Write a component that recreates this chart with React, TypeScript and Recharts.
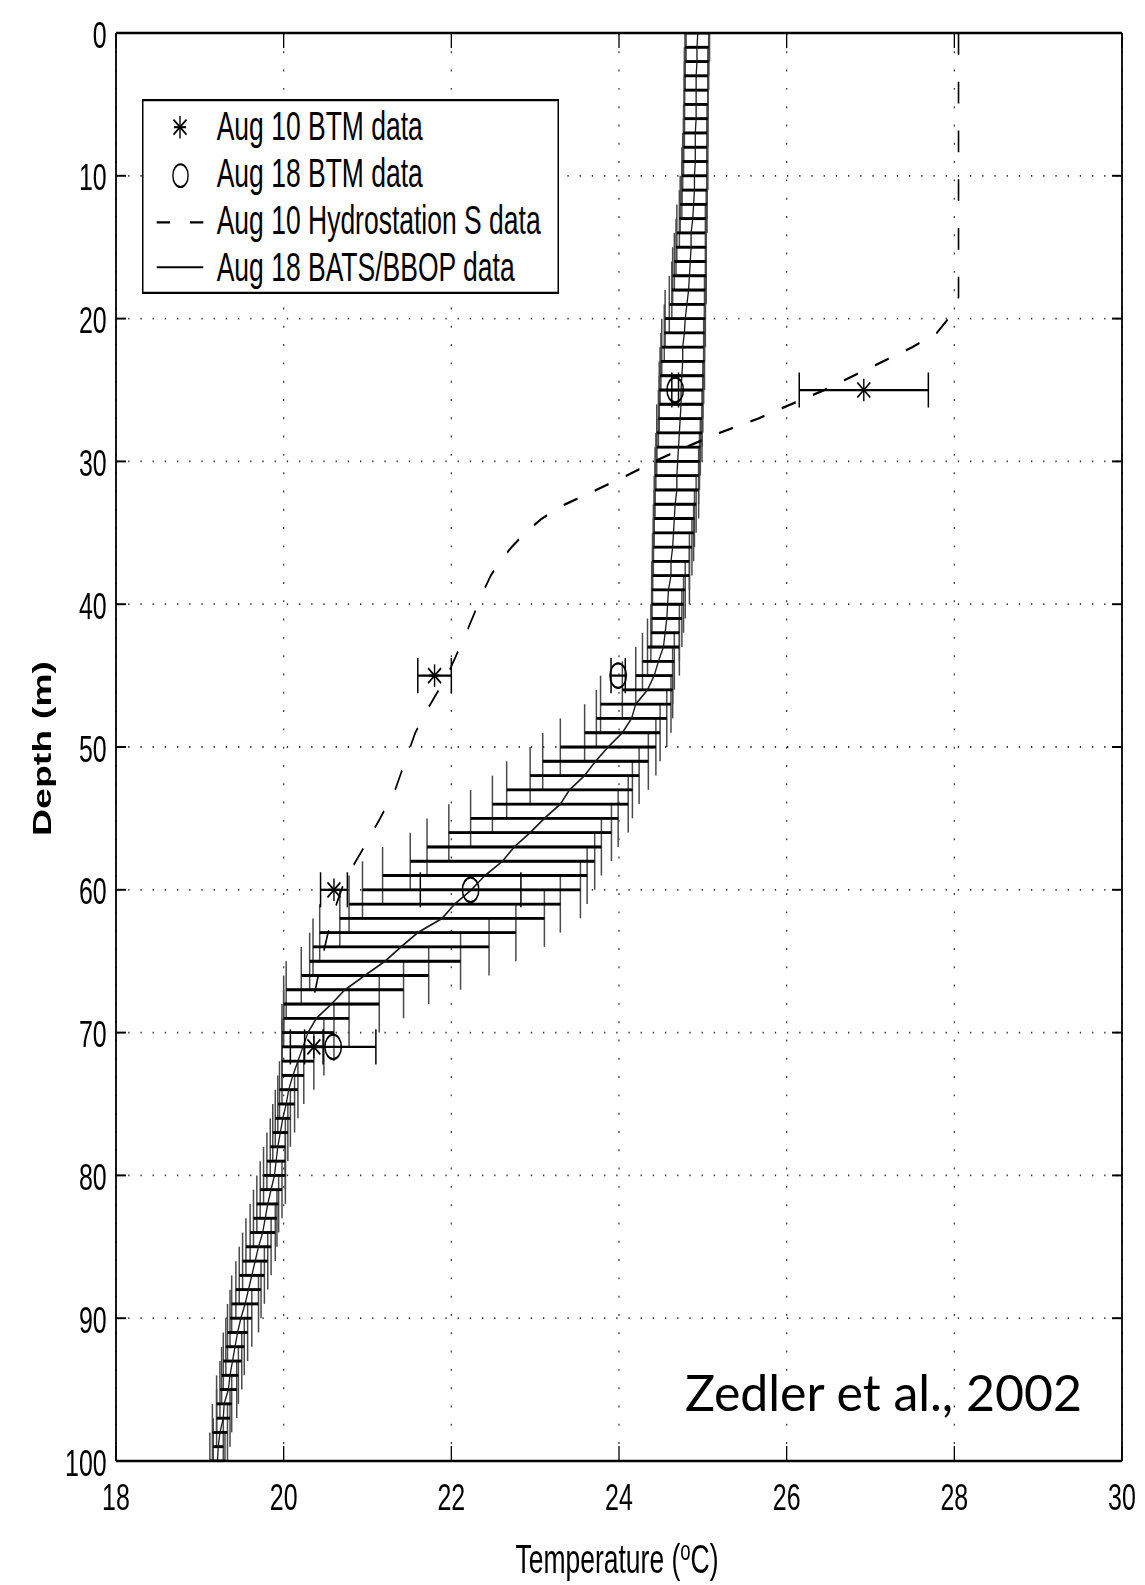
import React from "react";
import { ComposedChart, Line, Scatter, XAxis, YAxis, CartesianGrid, ErrorBar, Legend } from "recharts";

const FONT = '"Liberation Sans", Arial, Helvetica, sans-serif';

// axis ticks
const depthTicks = [0, 10, 20, 30, 40, 50, 60, 70, 80, 90, 100];
const tempTicks = [18, 20, 22, 24, 26, 28, 30];

// Aug 18 BATS/BBOP profile in 1 m bins: mean temperature and spread
const batsDepth = [
  0, 1, 2, 3, 4, 5, 6, 7, 8, 9, 10, 11, 12, 13, 14, 15, 16, 17, 18, 19, 20,
  21, 22, 23, 24, 25, 26, 27, 28, 29, 30, 31, 32, 33, 34, 35, 36, 37, 38, 39, 40,
  41, 42, 43, 44, 45, 46, 47, 48, 49, 50, 51, 52, 53, 54, 55, 56, 57, 58, 59, 60,
  61, 62, 63, 64, 65, 66, 67, 68, 69, 70, 71, 72, 73, 74, 75, 76, 77, 78, 79, 80,
  81, 82, 83, 84, 85, 86, 87, 88, 89, 90, 91, 92, 93, 94, 95, 96, 97, 98, 99, 100,
];
const batsMean = [
  24.94, 24.93, 24.93, 24.92, 24.92, 24.92, 24.92, 24.91, 24.91, 24.91, 24.9,
  24.9, 24.89, 24.88, 24.86, 24.86, 24.85, 24.84, 24.83, 24.81, 24.79,
  24.78, 24.76, 24.76, 24.75, 24.74, 24.74, 24.73, 24.72, 24.71, 24.7,
  24.69, 24.69, 24.67, 24.66, 24.65, 24.64, 24.62, 24.62, 24.59, 24.58,
  24.57, 24.55, 24.53, 24.47, 24.42, 24.34, 24.2, 24.15, 24.04, 23.87,
  23.72, 23.59, 23.41, 23.3, 23.11, 22.94, 22.75, 22.61, 22.4, 22.24,
  22.04, 21.89, 21.6, 21.4, 21.21, 20.97, 20.73, 20.57, 20.39, 20.29,
  20.23, 20.17, 20.11, 20.06, 20.03, 19.99, 19.96, 19.93, 19.91, 19.89,
  19.85, 19.81, 19.78, 19.75, 19.7, 19.66, 19.62, 19.58, 19.54, 19.49,
  19.45, 19.42, 19.39, 19.36, 19.34, 19.29, 19.28, 19.24, 19.22, 19.21,
];
const batsSpread = [
  0.14, 0.14, 0.14, 0.14, 0.14, 0.14, 0.14, 0.14, 0.14, 0.15, 0.15,
  0.15, 0.16, 0.16, 0.17, 0.18, 0.19, 0.2, 0.2, 0.21, 0.24,
  0.24, 0.25, 0.26, 0.26, 0.26, 0.26, 0.26, 0.27, 0.26, 0.26,
  0.26, 0.26, 0.25, 0.24, 0.24, 0.23, 0.22, 0.22, 0.2, 0.19,
  0.18, 0.17, 0.19, 0.19, 0.22, 0.3, 0.42, 0.42, 0.45, 0.57,
  0.63, 0.65, 0.75, 0.81, 0.88, 0.97, 1.04, 1.1, 1.22, 1.3,
  1.26, 1.22, 1.17, 1.05, 0.9, 0.76, 0.7, 0.57, 0.39, 0.31,
  0.25, 0.19, 0.13, 0.11, 0.1, 0.09, 0.09, 0.09, 0.11, 0.13,
  0.13, 0.13, 0.14, 0.15, 0.15, 0.15, 0.15, 0.15, 0.16, 0.13,
  0.12, 0.11, 0.11, 0.1, 0.1, 0.09, 0.08, 0.09, 0.06, 0.09,
];

// Aug 10 Hydrostation S cast
const hydroDepth = [
  0, 18.5, 19.3, 20, 21, 22, 23, 24, 25, 26, 27, 28, 29, 30, 31, 32, 33, 34, 35, 36,
  37, 38, 39, 40, 41.7, 43.3, 45, 47, 49, 51, 53, 55, 57, 58, 59.5, 61, 63, 65, 67.2,
];
const hydroTemp = [
  28.05, 28.05, 28.01, 27.93, 27.79, 27.5, 27.15, 26.8, 26.45, 26.05, 25.66, 25.2, 24.8, 24.42, 24.09, 23.73, 23.36, 23.08, 22.88, 22.72,
  22.58, 22.47, 22.39, 22.32, 22.2, 22.08, 21.95, 21.75, 21.57, 21.45, 21.33, 21.15, 20.96, 20.86, 20.72, 20.63, 20.53, 20.45, 20.37,
];

// BTM samples
const btm10Depth = [25, 45, 60, 71];
const btm10Temp = [26.92, 21.8, 20.6, 20.36];
const btm10Err = [0.77, 0.2, 0.16, 0.11];

const btm18Depth = [25, 45, 60, 71];
const btm18Temp = [24.67, 23.99, 22.23, 20.59];
const btm18Err = [0.04, 0.085, 0.6, 0.51];

const legendLabels = [
  "Aug 10 BTM data",
  "Aug 18 BTM data",
  "Aug 10 Hydrostation S data",
  "Aug 18 BATS/BBOP data",
];

const batsRows = batsDepth.map((d, i) => ({ d, t: batsMean[i], e: batsSpread[i] }));
const hydroRows = hydroDepth.map((d, i) => ({ d, t: hydroTemp[i] }));
const btm10Rows = btm10Depth.map((d, i) => ({ d, t: btm10Temp[i], e: btm10Err[i] }));
const btm18Rows = btm18Depth.map((d, i) => ({ d, t: btm18Temp[i], e: btm18Err[i] }));

// the MATLAB figure was stretched 1.5x vertically, so the chart is laid out
// at 2/3 height and scaled back up
const STRETCH = 1.5;
const W = 1145;
const H = 1056;
const MARGIN = { top: 21, right: 22, bottom: 42, left: 56 };
// plot box = margin + axis sizes (top axis 1, right axis 1, left 60, bottom 40)
const PLOT = { x: 116, y: 22, w: 1006, h: 952 };

const noMarker = () => <g />;

const Asterisk = ({ cx, cy }: any) => (
  <g stroke="#000" strokeWidth={1.4}>
    <line x1={cx} y1={cy - 7.5} x2={cx} y2={cy + 7.5} />
    <line x1={cx - 6.5} y1={cy - 5} x2={cx + 6.5} y2={cy + 5} />
    <line x1={cx - 6.5} y1={cy + 5} x2={cx + 6.5} y2={cy - 5} />
    <line x1={cx - 6} y1={cy} x2={cx + 6} y2={cy} />
  </g>
);

const Ring = ({ cx, cy }: any) => (
  <circle cx={cx} cy={cy} r={8.2} fill="none" stroke="#000" strokeWidth={1.5} />
);

const DepthTick = ({ x, y, payload }: any) => (
  <text x={x} y={y + 9.7} textAnchor="end" fontSize={25} fontFamily={FONT} fill="#000">
    {payload.value}
  </text>
);

const TempTick = ({ x, y, payload }: any) => (
  <text x={x} y={y + 18} textAnchor="middle" fontSize={25} fontFamily={FONT} fill="#000">
    {payload.value}
  </text>
);

const depthLabel = () => (
  <text
    x={51.5}
    y={499}
    transform="rotate(-90 51.5 499)"
    textAnchor="middle"
    fontSize={25}
    fontWeight="bold"
    fontFamily={FONT}
    fill="#000"
  >
    Depth (m)
  </text>
);

const tempLabel = () => (
  <text x={617} y={1049} textAnchor="middle" fontSize={26.5} fontFamily={FONT} fill="#000">
    Temperature (
    <tspan fontSize={18.5} dy={-9}>o</tspan>
    <tspan dy={9}>C)</tspan>
  </text>
);

const LegendBox = () => (
  <svg width={417} height={130} style={{ display: "block" }}>
    <rect x={0.75} y={0.75} width={415.5} height={128.5} fill="#fff" stroke="#000" strokeWidth={1.5} />
    <Asterisk cx={38} cy={18.8} />
    <circle cx={38.5} cy={51.1} r={7.6} fill="none" stroke="#000" strokeWidth={1.4} />
    <line x1={14.7} y1={82.2} x2={61.3} y2={82.2} stroke="#000" strokeWidth={1.5} strokeDasharray="13.3 20" />
    <line x1={14.7} y1={112.2} x2={61.3} y2={112.2} stroke="#000" strokeWidth={1.3} />
    {legendLabels.map((s, i) => (
      <text key={s} x={74.7} y={27.3 + i * 31.27} fontSize={26.5} fontFamily={FONT} fill="#000">
        {s}
      </text>
    ))}
  </svg>
);

export default function App() {
  return (
    <div style={{ position: "absolute", left: 0, top: 0, width: W, height: 1584, background: "#fff" }}>
      {/* error bar caps are clipped to the axes box, like the series */}
      <style>{`.recharts-errorBars { clip-path: url(#plot-area); }`}</style>
      <svg width={0} height={0} style={{ position: "absolute" }}>
        <defs>
          <clipPath id="plot-area" clipPathUnits="userSpaceOnUse">
            <rect x={PLOT.x} y={PLOT.y} width={PLOT.w} height={PLOT.h} />
          </clipPath>
        </defs>
      </svg>
      <div style={{ width: W, height: H, transform: `scaleY(${STRETCH})`, transformOrigin: "0 0" }}>
        <ComposedChart width={W} height={H} margin={MARGIN}>
          <CartesianGrid stroke="#333" strokeWidth={1.2} strokeDasharray="1.3 10.9" />
          <XAxis
            type="number"
            dataKey="t"
            domain={[18, 30]}
            ticks={tempTicks}
            interval={0}
            allowDataOverflow
            height={40}
            tickSize={-10}
            tickMargin={24.7}
            axisLine={{ stroke: "#000", strokeWidth: 1.8 }}
            tickLine={{ stroke: "#000", strokeWidth: 1.3 }}
            tick={<TempTick />}
            label={tempLabel}
          />
          <XAxis
            xAxisId="top"
            orientation="top"
            type="number"
            dataKey="t"
            domain={[18, 30]}
            ticks={tempTicks}
            interval={0}
            allowDataOverflow
            height={1}
            tickSize={-10}
            axisLine={{ stroke: "#000", strokeWidth: 1.8 }}
            tickLine={{ stroke: "#000", strokeWidth: 1.3 }}
            tick={noMarker}
          />
          <YAxis
            type="number"
            dataKey="d"
            domain={[0, 100]}
            ticks={depthTicks}
            interval={0}
            reversed
            allowDataOverflow
            width={60}
            tickSize={-10}
            tickMargin={19.3}
            axisLine={{ stroke: "#000", strokeWidth: 1.8 }}
            tickLine={{ stroke: "#000", strokeWidth: 1.3 }}
            tick={<DepthTick />}
            label={depthLabel}
          />
          <YAxis
            yAxisId="right"
            orientation="right"
            type="number"
            dataKey="d"
            domain={[0, 100]}
            ticks={depthTicks}
            interval={0}
            reversed
            allowDataOverflow
            width={1}
            tickSize={-10}
            axisLine={{ stroke: "#000", strokeWidth: 1.8 }}
            tickLine={{ stroke: "#000", strokeWidth: 1.3 }}
            tick={noMarker}
          />

          <Scatter data={batsRows} shape={noMarker} isAnimationActive={false}>
            <ErrorBar dataKey="e" direction="x" width={19} stroke="#4a4a4a" strokeWidth={1.5} isAnimationActive={false} />
            <ErrorBar dataKey="e" direction="x" width={0} stroke="#000" strokeWidth={1.9} isAnimationActive={false} />
          </Scatter>
          <Line
            data={batsRows}
            dataKey="d"
            type="linear"
            stroke="#1a1a1a"
            strokeWidth={1.3}
            dot={false}
            activeDot={false}
            isAnimationActive={false}
          />
          <Line
            data={hydroRows}
            dataKey="d"
            type="linear"
            stroke="#000"
            strokeWidth={1.6}
            strokeDasharray="14.5 18"
            dot={false}
            activeDot={false}
            isAnimationActive={false}
          />
          <Scatter data={btm18Rows} shape={<Ring />} isAnimationActive={false}>
            <ErrorBar dataKey="e" direction="x" width={11.7} stroke="#000" strokeWidth={1.5} isAnimationActive={false} />
          </Scatter>
          <Scatter data={btm10Rows} shape={<Asterisk />} isAnimationActive={false}>
            <ErrorBar dataKey="e" direction="x" width={11.7} stroke="#000" strokeWidth={1.5} isAnimationActive={false} />
          </Scatter>

          <Legend
            layout="vertical"
            align="center"
            verticalAlign="middle"
            wrapperStyle={{ left: 142, top: 65.5, width: 417, height: 130 }}
            content={LegendBox}
          />
        </ComposedChart>
      </div>
      <svg width={W} height={120} style={{ position: "absolute", left: 0, top: 1330 }}>
        <text x={685} y={81} fontSize={50} fontFamily="Lato, 'Open Sans', sans-serif" fill="#000">
          Zedler et al., 2002
        </text>
      </svg>
    </div>
  );
}
